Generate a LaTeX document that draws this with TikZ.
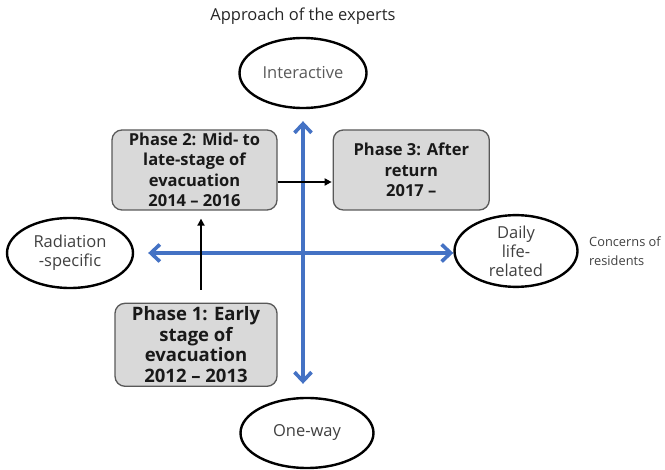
\documentclass[tikz,border=0pt]{standalone}
\usepackage{fontspec}
\setmainfont{Open Sans}
\usetikzlibrary{arrows.meta, positioning, shapes.geometric}
\definecolor{axisblue}{RGB}{68,114,196}
\definecolor{boxgray}{RGB}{217,217,217}
\definecolor{edgegray}{RGB}{89,89,89}
\definecolor{labelgray}{RGB}{64,64,64}

\begin{document}
\begin{tikzpicture}[x=1pt, y=-1pt]
    % Define styles
    \tikzstyle{phase} = [rectangle, rounded corners=10pt, draw=edgegray, line width=1.3pt,
                          fill=boxgray, align=center, inner sep=0pt,
                          font=\fontsize{16.5}{20.5}\selectfont\bfseries, text=black!90]
    \tikzstyle{pole} = [ellipse, draw, line width=2.4pt, inner sep=0pt,
                         minimum width=127pt, minimum height=70pt, align=center,
                         font=\fontsize{16.5}{19}\selectfont, text=labelgray]
    \tikzstyle{axis} = [line width=3.6pt, axisblue, {Straight Barb[length=9pt, width=17pt]}-{Straight Barb[length=9pt, width=17pt]}]
    \tikzstyle{arrow} = [line width=2pt, -{Triangle[length=7pt, width=7pt]}]

    \useasboundingbox (0,0) rectangle (665,470);

    % Create blocks
    \node[font=\fontsize{16.5}{19}\selectfont, text=black!85] (title) at (303,16) {Approach of the experts};

    \node[pole, text=edgegray] (inter) at (303,73) {Interactive};
    \node[pole, minimum width=133pt] (oneway) at (307,433) {One-way};
    \node[pole, minimum width=126pt] (radiation) at (70,253) {Radiation\\-specific};
    \node[pole, minimum width=123pt, minimum height=71pt] (daily) at (516,251) {Daily\\life-\\related};
    \node[right=7pt of daily, align=left, text=labelgray,
          font=\fontsize{12.8}{19.5}\selectfont] (concerns) {Concerns of\\residents};

    \node[phase, minimum width=165pt, minimum height=80pt] (phase2) at (194.5,170)
        {Phase 2: Mid- to\\late-stage of\\evacuation\\2014 -- 2016};
    \node[phase, minimum width=156pt, minimum height=80pt, right=55pt of phase2] (phase3)
        {Phase 3: After\\return\\2017 --};
    \node[phase, minimum width=162pt, minimum height=83pt, below=92pt of phase2.south, anchor=north,
          xshift=1.5pt, font=\fontsize{18.5}{20.5}\selectfont\bfseries] (phase1)
        {Phase 1: Early\\stage of\\evacuation\\2012 -- 2013};

    % Draw arrows
    \draw[axis, shorten <=12pt, shorten >=13pt] (inter.south) -- (inter.south |- oneway.north);
    \draw[axis, shorten <=14pt] (radiation.east) -- (radiation.east -| daily.west);
    \draw[arrow, shorten <=13pt, shorten >=8pt] ([xshift=5pt]phase1.north) -- ([xshift=5pt]phase1.north |- phase2.south);
    \draw[arrow, shorten >=1pt] ([yshift=-12pt]phase2.east) -- ([yshift=-12pt]phase2.east -| phase3.west);
\end{tikzpicture}
\end{document}
